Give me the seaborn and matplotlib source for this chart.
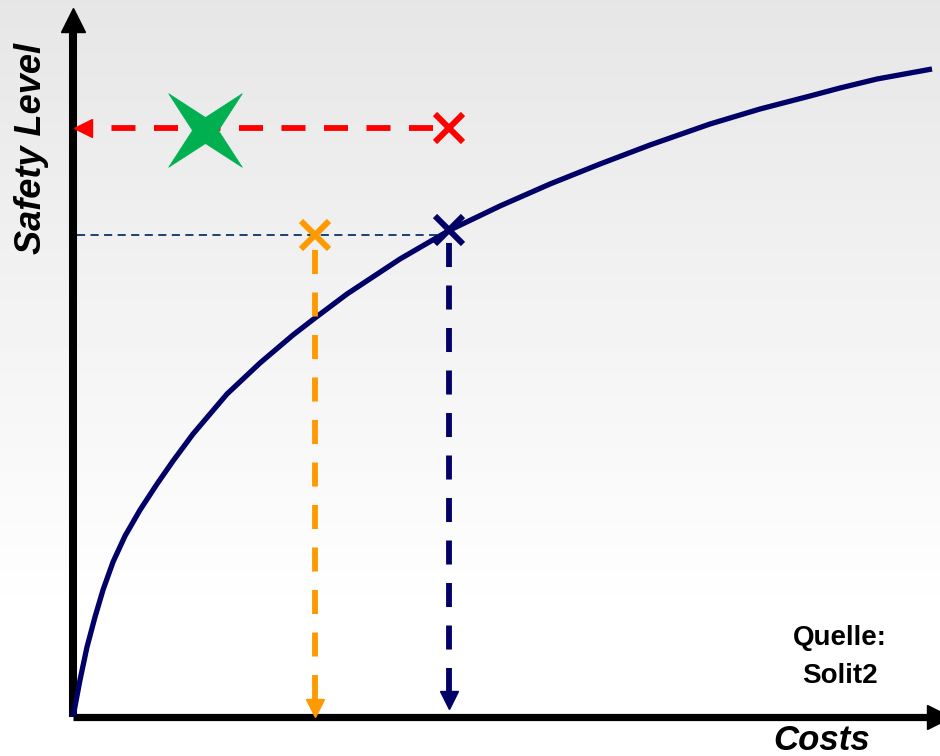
import numpy as np
import matplotlib
matplotlib.use("Agg")
import matplotlib.pyplot as plt
from matplotlib.path import Path
import seaborn as sns

# cost / safety values (arbitrary units)
cost_curve = [0, 7, 14, 22, 30, 40, 52, 67, 84, 100, 120, 154, 187, 220, 242,
              274, 327, 377, 427, 477, 527, 577, 637, 687, 737, 767, 804, 859]
safety_curve = [0, 37, 70, 100, 127, 155, 181, 207, 233, 256, 283, 323, 354, 382, 399,
                423, 458, 487, 511, 533, 553, 572, 593, 608, 621, 629, 638, 648]

current_point = (376, 487)   # navy cross on the curve
alt_point = (242, 482)       # orange cross
target_point = (376, 589)    # red cross
optimum_point = (132, 587)   # green star

x_label = "Costs"
y_label = "Safety Level"
source_lines = ["Quelle:", "Solit2"]

navy = "#000066"
orange = "#FF9900"
red = "#FF0000"
green = "#00B050"

sns.set_style("white")
plt.rcParams["font.family"] = ["Liberation Sans", "DejaVu Sans"]
plt.rcParams["text.color"] = "black"

fig = plt.figure(figsize=(9.4, 7.56), dpi=100)
ax = fig.add_axes([0, 0, 1, 1])

# soft grey-to-white background
rows = np.arange(756)
shade = np.clip(230 + 25 * rows / 620, 0, 255) / 255
bg = np.repeat(shade[:, None], 8, axis=1)
ax.imshow(bg, extent=[-73, 867, -39, 717], aspect="auto", cmap="gray",
          vmin=0, vmax=1, zorder=0, interpolation="nearest")

ax.set_xlim(-73, 867)
ax.set_ylim(-39, 717)
ax.axis("off")

# axes with arrow heads
ax.plot([0, 0], [0, 685], color="black", lw=5.8, solid_capstyle="butt", zorder=2)
ax.plot([0], [697], marker="^", ms=17, color="black", clip_on=False, zorder=2)
ax.plot([0, 855], [0, 0], color="black", lw=5.2, solid_capstyle="butt", zorder=2)
ax.plot([866], [0], marker=">", ms=17, color="black", clip_on=False, zorder=2)

# cost / safety curve
sns.lineplot(x=cost_curve, y=safety_curve, ax=ax, color=navy, lw=3.8, zorder=3,
             solid_joinstyle="round", solid_capstyle="butt")

dash = (17.3 / 4.2, 13.3 / 4.2)

# thin guide at the current safety level
ax.plot([4, current_point[0] - 12], [alt_point[1], alt_point[1]], color="#0B3466",
        lw=1.3, linestyle=(0, (4.5, 3)), zorder=2)

# red: desired safety level, projected to the y axis
ax.plot([target_point[0] - 16, 24], [target_point[1], target_point[1]], color=red,
        lw=4.2, linestyle=(0, dash), zorder=3)
ax.plot([10], [target_point[1]], marker="<", ms=13, color=red, zorder=3)
ax.plot(*target_point, marker="x", ms=20, mew=4.3, color=red, zorder=4)

# orange: cheaper alternative, projected to the x axis
ax.plot([alt_point[0], alt_point[0]], [alt_point[1] - 15, 18], color=orange,
        lw=4.2, linestyle=(0, dash), zorder=3)
ax.plot([alt_point[0]], [9], marker="v", ms=12.5, color=orange, zorder=3)
ax.plot(*alt_point, marker="x", ms=20, mew=4.3, color=orange, zorder=4)

# navy: current point, projected to the x axis
ax.plot([current_point[0], current_point[0]], [current_point[1] - 13, 25], color=navy,
        lw=4.2, linestyle=(0, dash), zorder=3)
ax.plot([current_point[0]], [17], marker="v", ms=12.5, color=navy, zorder=3)
ax.plot(*current_point, marker="x", ms=20, mew=4.3, color=navy, zorder=4)

# green four-pointed star
ang = np.deg2rad(np.arange(8) * 45 + 45)
rad = np.where(np.arange(8) % 2 == 0, 1.0, 0.25)
verts = np.column_stack([rad * np.cos(ang), rad * np.sin(ang)])
verts = np.vstack([verts, verts[:1]])
codes = [Path.MOVETO] + [Path.LINETO] * 7 + [Path.CLOSEPOLY]
star = Path(verts, codes)
ax.plot(*optimum_point, marker=star, ms=53, color=green, mec=green, mew=0.5, zorder=4)

# labels
fig.text(32 / 940, 1 - 149 / 756, y_label, rotation=90, ha="center", va="center",
         fontsize=26, fontweight="bold", fontstyle="italic", color="black")
fig.text(822 / 940, 1 - 750 / 756, x_label, ha="center", va="baseline",
         fontsize=25, fontweight="bold", fontstyle="italic", color="black")
fig.text(840 / 940, 1 - 645 / 756, source_lines[0], ha="center", va="baseline",
         fontsize=20, fontweight="bold", color="black")
fig.text(840 / 940, 1 - 683 / 756, source_lines[1], ha="center", va="baseline",
         fontsize=20, fontweight="bold", color="black")

fig.savefig("out.png", dpi=100)
